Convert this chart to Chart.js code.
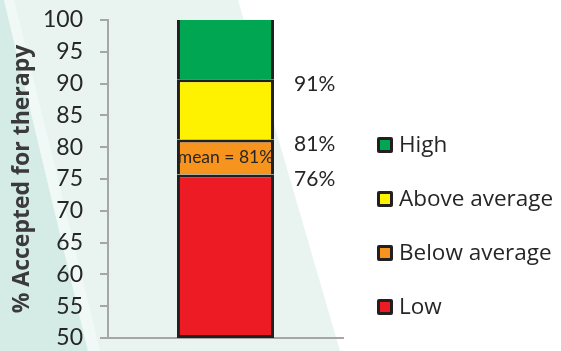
<!DOCTYPE html>
<html>
<head>
<meta charset="utf-8">
<script src="https://cdn.jsdelivr.net/npm/chart.js@4.4.1/dist/chart.umd.min.js"></script>
<style>
    html, body { margin: 0; padding: 0; background: #fff; }
    #wrap { width: 561px; height: 351px; position: relative; }
</style>
</head>
<body>
<div id="wrap"><canvas id="chart"></canvas></div>
<script>
//Data
const categories = [''];
const seriesNames = ['Low', 'Below average', 'Above average', 'High'];
const seriesColors = ['#ed1c24', '#f7941d', '#fff200', '#00a651'];
// band edges, bottom to top (% accepted)
const bandEdges = [50, 75.7, 81.2, 90.7, 100];
const edgeLabels = ['76%', '81%', '91%'];
const meanLabel = 'mean = 81%';
const yMin = 50;
const yMax = 100;
const yStep = 5;
const yTitle = '% Accepted for therapy';

const FONT = 'Lato, "Open Sans", sans-serif';
const WIDE = '"Open Sans", sans-serif';
const TEXT = '#262626';
const AXIS = '#a6a6a6';

//Background shapes
const backdrop = {
    id: 'backdrop',
    beforeDraw(chart) {
        const ctx = chart.ctx;
        const w = chart.width, h = chart.height;
        ctx.save();
        ctx.fillStyle = '#ffffff';
        ctx.fillRect(0, 0, w, h);
        ctx.fillStyle = '#e9f4f1';
        ctx.beginPath();
        ctx.moveTo(0, 0); ctx.lineTo(238, 0); ctx.lineTo(340, h); ctx.lineTo(0, h);
        ctx.fill();
        ctx.fillStyle = '#d5ebe5';
        ctx.beginPath();
        ctx.moveTo(0, 0); ctx.lineTo(4, 0); ctx.lineTo(88, h); ctx.lineTo(0, h);
        ctx.fill();
        ctx.fillStyle = '#f1f9f7';
        ctx.beginPath();
        ctx.moveTo(4, 0); ctx.lineTo(14, 0); ctx.lineTo(100, h); ctx.lineTo(88, h);
        ctx.fill();
        ctx.restore();
    }
};

//Labels next to the bar, mean text and legend
const annotate = {
    id: 'annotate',
    afterDraw(chart) {
        const ctx = chart.ctx;
        const y = chart.scales.y;
        const bar = chart.getDatasetMeta(0).data[0];
        const right = bar.x + bar.width / 2;

        ctx.save();
        ctx.fillStyle = TEXT;
        ctx.textBaseline = 'middle';
        ctx.textAlign = 'left';
        ctx.font = '21px ' + FONT;
        edgeLabels.forEach((t, i) => {
            ctx.fillText(t, right + 20, y.getPixelForValue(bandEdges[i + 1]) + 5);
        });

        const mean = chart.getDatasetMeta(1).data[0];
        ctx.textAlign = 'center';
        ctx.font = '17.5px ' + FONT;
        ctx.fillText(meanLabel, mean.x, (mean.y + mean.base) / 2);

        // legend, top item first
        ctx.textAlign = 'left';
        ctx.font = '22.5px ' + WIDE;
        const order = seriesNames.map((n, i) => i).reverse();
        order.forEach((i, k) => {
            const cy = 145 + k * 54;
            ctx.fillStyle = '#231f20';
            ctx.beginPath();
            ctx.roundRect(377, cy - 8, 16, 16, 2);
            ctx.fill();
            ctx.fillStyle = seriesColors[i];
            ctx.fillRect(380, cy - 5, 10, 10);
            ctx.fillStyle = TEXT;
            ctx.fillText(seriesNames[i], 399, cy + 1);
        });
        ctx.restore();
    }
};

// top segment has no lid, the others share one line between them
function edgeWidths(i) {
    if (i === 0) return 3;
    if (i === seriesNames.length - 1) return { top: 0, bottom: 0, left: 3, right: 3 };
    return { top: 3, bottom: 0, left: 3, right: 3 };
}

let datasets = seriesNames.map((name, i) => ({
    label: name,
    data: [[bandEdges[i], bandEdges[i + 1]]],
    backgroundColor: seriesColors[i],
    borderColor: '#231f20',
    borderWidth: edgeWidths(i),
    borderSkipped: false,
    grouped: false,
    barPercentage: 0.413,
    categoryPercentage: 1
}));

let chart = new Chart(document.getElementById('chart'), {
    type: 'bar',
    data: {
        labels: categories,
        datasets: datasets
    },
    options: {
        responsive: true,
        maintainAspectRatio: false,
        animation: false,
        layout: {
            padding: { top: 20, right: 218, left: 0, bottom: 0 }
        },
        plugins: {
            legend: { display: false },
            tooltip: { enabled: false }
        },
        scales: {
            x: {
                ticks: { display: false },
                grid: { display: false, drawTicks: false },
                border: { display: true, color: AXIS, width: 2 },
                afterFit: (s) => { s.height = 13; }
            },
            y: {
                min: yMin,
                max: yMax,
                ticks: {
                    stepSize: yStep,
                    padding: 17,
                    color: TEXT,
                    font: { family: FONT, size: 23 }
                },
                grid: {
                    drawOnChartArea: false,
                    drawTicks: true,
                    tickLength: 8,
                    color: AXIS,
                    lineWidth: 2
                },
                border: { display: true, color: AXIS, width: 2 },
                title: {
                    display: true,
                    text: yTitle,
                    color: '#3a3a3a',
                    font: { family: WIDE, size: 23, weight: 'bold' },
                    padding: { top: 9, bottom: 0 }
                },
                afterFit: (s) => {
                    // tick padding would otherwise push the plot in from top and bottom
                    s.width = 108;
                    s.paddingTop = 0;
                    s.paddingBottom = 0;
                }
            }
        }
    },
    plugins: [backdrop, annotate]
});
</script>
</body>
</html>
